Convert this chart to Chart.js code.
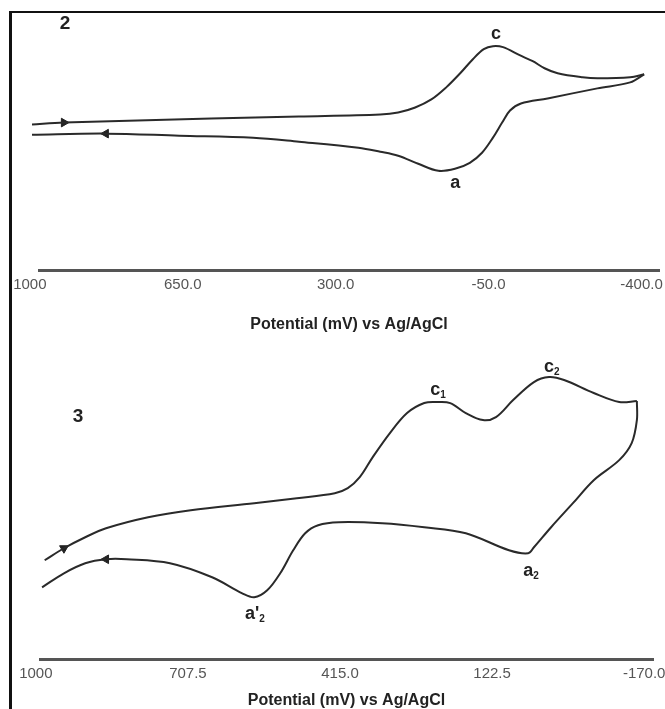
<!DOCTYPE html>
<html lang="en">
<head>
<meta charset="UTF-8">
<title>Cyclic voltammograms 2 and 3</title>
<style>
  html, body { margin: 0; padding: 0; background: #fff; overflow: hidden; }
  body { width: 665px; height: 709px; position: relative; }
  .frame { position: absolute; left: 9px; top: 11px; width: 660px; height: 710px; border-top: 2px solid #111; border-left: 3px solid #111; }
  .panel { position: absolute; left: 0; width: 665px; }
  #panel2 { top: 0; height: 334px; }
  #panel3 { top: 334px; height: 376px; }
</style>
<script src="https://cdn.jsdelivr.net/npm/chart.js"></script>
</head>
<body>
  <div class="frame"></div>
  <div class="panel" id="panel2"><canvas id="cv2"></canvas></div>
  <div class="panel" id="panel3"><canvas id="cv3"></canvas></div>

<script>
const FONT = "'Liberation Sans Narrow', 'Liberation Sans', Arial, sans-serif";
const AXIS_TITLE = 'Potential (mV) vs Ag/AgCl';

// ---- voltammogram 2 (potential in mV, current in arbitrary units) ----
const cv2Ticks = [1000, 650, 300, -50, -400];
const cv2FwdE = [995, 922, 585, 384, 198, 157, 118, 81, 47, 15, -14, -39, -60, -83, -121, -151, -178, -208, -265, -299, -374, -406];
const cv2FwdI = [0.6, 0.8, 1.2, 1.4, 1.6, 1.8, 2.3, 3.1, 4.3, 5.7, 7.1, 8.1, 8.4, 8.3, 7.5, 6.9, 6.2, 5.7, 5.3, 5.2, 5.3, 5.6];
const cv2RevE = [-406, -374, -299, -185, -124, -99, -81, -60, -35, -7, 27, 65, 111, 157, 198, 248, 384, 489, 658, 826, 995];
const cv2RevI = [5.6, 4.8, 4.2, 3.2, 2.7, 2.0, 0.8, -0.7, -2.2, -3.2, -3.8, -4.0, -3.3, -2.5, -2.1, -1.7, -1.1, -0.7, -0.5, -0.3, -0.4];
const cv2ArrowE = [922, 826];
const cv2ArrowI = [0.8, -0.3];
const cv2PeakText = ['c', 'a'];
const cv2PeakSub = ['', ''];
const cv2PeakE = [-60, 65];
const cv2PeakI = [8.4, -4.0];

// ---- voltammogram 3 ----
const cv3Ticks = [1000, 707.5, 415, 122.5, -170];
const cv3FwdE = [983, 946, 905, 865, 784, 702, 580, 498, 425, 400, 377, 352, 319, 286, 253, 228, 203, 173, 140, 115, 82, 42, 13, -16, -73, -122, -156];
const cv3FwdI = [0.0, 1.2, 2.3, 3.2, 4.3, 5.0, 5.7, 6.2, 6.7, 7.2, 8.3, 10.3, 12.7, 14.7, 15.7, 15.8, 15.7, 14.7, 14.0, 14.3, 16.0, 17.8, 18.3, 18.0, 16.7, 15.8, 15.9];
const cv3RevE = [-156, -156, -146, -122, -73, -33, 9, 42, 53, 90, 173, 253, 334, 417, 457, 482, 505, 530, 555, 580, 603, 661, 742, 825, 865, 905, 946, 988];
const cv3RevI = [15.9, 14.0, 11.7, 10.0, 8.0, 5.7, 3.3, 1.3, 0.7, 1.0, 2.7, 3.3, 3.7, 3.8, 3.5, 2.7, 1.0, -1.3, -3.0, -3.7, -3.3, -1.7, -0.3, 0.1, 0.1, -0.3, -1.3, -2.7];
const cv3ArrowE = [946, 865];
const cv3ArrowI = [1.2, 0.1];
const cv3PeakText = ['c', 'c', 'a', "a'"];
const cv3PeakSub = ['1', '2', '2', '2'];
const cv3PeakE = [228, 13, 53, 580];
const cv3PeakI = [15.8, 18.3, 0.7, -3.7];

function toPts(es, is) {
  return es.map((e, k) => ({ x: e, y: is[k] }));
}

// draws the peak letters (with subscripts) and the panel number
const labelPlugin = {
  id: 'cvLabels',
  afterDatasetsDraw(chart, args, opts) {
    const { ctx } = chart;
    const x = chart.scales.x, y = chart.scales.y;
    ctx.save();
    ctx.fillStyle = '#222';
    ctx.textBaseline = 'middle';
    opts.peaks.forEach((p, k) => {
      const px = x.getPixelForValue(p.e) + opts.offsets[k][0];
      const py = y.getPixelForValue(p.i) + opts.offsets[k][1];
      ctx.font = 'bold 18px ' + FONT;
      ctx.textAlign = 'center';
      ctx.fillText(p.text, px, py);
      if (p.sub) {
        const w = ctx.measureText(p.text).width;
        ctx.font = 'bold 10px ' + FONT;
        ctx.textAlign = 'left';
        ctx.fillText(p.sub, px + w / 2, py + 5);
      }
    });
    ctx.font = 'bold 19px ' + FONT;
    ctx.textAlign = 'center';
    ctx.fillText(opts.tag.text, opts.tag.x, opts.tag.y);
    ctx.restore();
  }
};

function buildCV(id, s) {
  const line = { showLine: true, tension: 0.35, borderColor: '#2a2a2a', borderWidth: 2, pointRadius: 0, fill: false, clip: false };
  const arrow = { pointStyle: 'triangle', pointRadius: 5, backgroundColor: '#222', borderColor: '#222', borderWidth: 1, clip: false };
  const peaks = s.peakText.map((t, k) => ({ text: t, sub: s.peakSub[k], e: s.peakE[k], i: s.peakI[k] }));
  return new Chart(document.getElementById(id), {
    type: 'scatter',
    data: {
      datasets: [
        Object.assign({ data: toPts(s.fwdE, s.fwdI) }, line),
        Object.assign({ data: toPts(s.revE, s.revI) }, line),
        Object.assign({ data: toPts([s.arrowE[0]], [s.arrowI[0]]), rotation: s.arrowRot[0] }, arrow),
        Object.assign({ data: toPts([s.arrowE[1]], [s.arrowI[1]]), rotation: s.arrowRot[1] }, arrow)
      ]
    },
    options: {
      responsive: true,
      maintainAspectRatio: false,
      animation: false,
      events: [],
      layout: { padding: s.padding },
      plugins: {
        legend: { display: false },
        tooltip: { enabled: false },
        cvLabels: { peaks: peaks, offsets: s.offsets, tag: s.tag }
      },
      scales: {
        x: {
          type: 'linear',
          reverse: true,
          min: s.xMin,
          max: s.xMax,
          afterBuildTicks: sc => { sc.ticks = s.ticks.map(v => ({ value: v })); },
          // labels may hang past the axis ends, like in the original figure
          afterFit: sc => { sc.paddingLeft = 0; sc.paddingRight = 0; },
          grid: { display: false, drawTicks: false },
          border: { display: true, color: '#555', width: 3 },
          ticks: {
            autoSkip: false,
            maxRotation: 0,
            padding: 5,
            color: '#555',
            font: { family: FONT, size: 15 },
            callback: v => (v === 1000 ? '1000' : Number(v).toFixed(1))
          },
          title: {
            display: true,
            text: AXIS_TITLE,
            color: '#222',
            font: { family: FONT, size: 16, weight: 'bold' },
            padding: { top: s.titleGap, bottom: 0 }
          }
        },
        y: { display: false, min: s.yMin, max: s.yMax }
      }
    },
    plugins: [labelPlugin]
  });
}

buildCV('cv2', {
  fwdE: cv2FwdE, fwdI: cv2FwdI, revE: cv2RevE, revI: cv2RevI,
  arrowE: cv2ArrowE, arrowI: cv2ArrowI, arrowRot: [90, -90],
  peakText: cv2PeakText, peakSub: cv2PeakSub, peakE: cv2PeakE, peakI: cv2PeakI,
  offsets: [[3, -12], [17, 12]],
  tag: { text: '2', x: 65, y: 24 },
  ticks: cv2Ticks, xMin: -440, xMax: 979, yMin: -13.94, yMax: 11.0,
  padding: { left: 39, right: 3, top: 20, bottom: 0 },
  titleGap: 16
});

buildCV('cv3', {
  fwdE: cv3FwdE, fwdI: cv3FwdI, revE: cv3RevE, revI: cv3RevI,
  arrowE: cv3ArrowE, arrowI: cv3ArrowI, arrowRot: [60, -90],
  peakText: cv3PeakText, peakSub: cv3PeakSub, peakE: cv3PeakE, peakI: cv3PeakI,
  offsets: [[-2, -12], [0, -10], [0, 18], [-2, 17]],
  tag: { text: '3', x: 78, y: 83 },
  ticks: cv3Ticks, xMin: -187, xMax: 992, yMin: -9.94, yMax: 20.6,
  padding: { left: 40, right: 12, top: 20, bottom: 0 },
  titleGap: 3
});
</script>
</body>
</html>
